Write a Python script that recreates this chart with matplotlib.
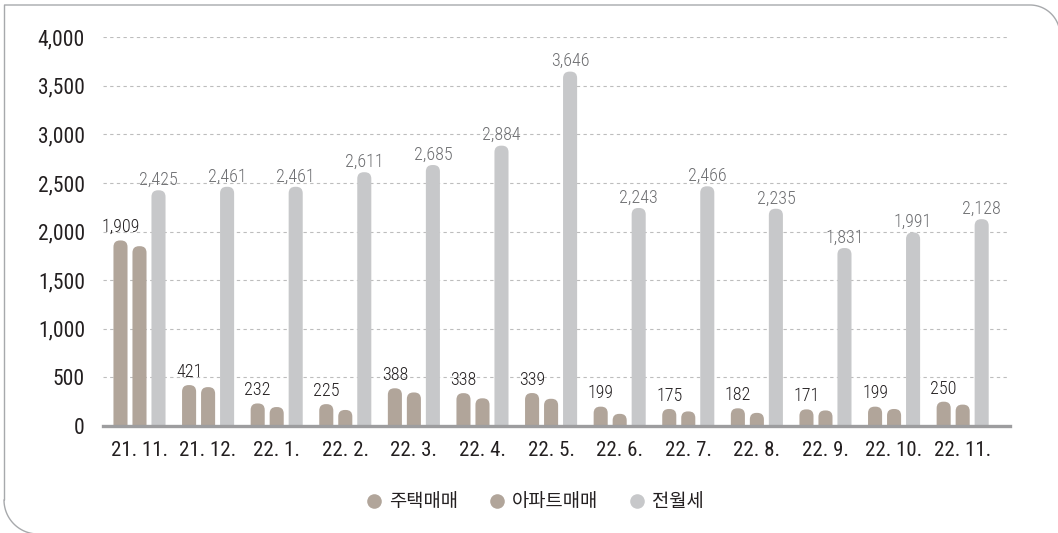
import numpy as np
import matplotlib
matplotlib.use("Agg")
import matplotlib.pyplot as plt
from matplotlib.patches import FancyBboxPatch
from matplotlib.lines import Line2D

plt.rcParams['font.family'] = ['Roboto Condensed', 'Liberation Sans Narrow', 'Roboto', 'DejaVu Sans']

# data
months = ['21. 11.', '21. 12.', '22. 1.', '22. 2.', '22. 3.', '22. 4.', '22. 5.',
          '22. 6.', '22. 7.', '22. 8.', '22. 9.', '22. 10.', '22. 11.']
house_sales = [1909, 421, 232, 225, 388, 338, 339, 199, 175, 182, 171, 199, 250]
apt_sales = [1850, 400, 195, 165, 345, 285, 280, 125, 150, 135, 160, 175, 220]
rent = [2425, 2461, 2461, 2611, 2685, 2884, 3646, 2243, 2466, 2235, 1831, 1991, 2128]
series_names = ['주택매매', '아파트매매', '전월세']
yticks = [0, 500, 1000, 1500, 2000, 2500, 3000, 3500, 4000]

c_house = '#b1a59a'
c_apt = '#b1a59a'
c_rent = '#c7c8ca'

W, H = 1058, 533
fig = plt.figure(figsize=(W / 100, H / 100), dpi=100)

# axes placed in pixel terms
left, right, bottom, top = 103, 1010, 426, 37.2
ax = fig.add_axes([left / W, 1 - bottom / H, (right - left) / W, (bottom - top) / H])
ax.set_xlim(-0.532, 12.69)
ax.set_ylim(0, 4000)

# pixels per data unit, used for rounded bar tops
px_x = (right - left) / (12.69 + 0.532)
px_y = (bottom - top) / 4000
aspect = px_x / px_y


def rounded_bars(xs, vals, width, color, r_px=6.5):
    r = r_px / px_x
    for x, v in zip(xs, vals):
        p = FancyBboxPatch((x - width / 2, -300), width, v + 300,
                           boxstyle=f"round,pad=0,rounding_size={r}",
                           mutation_aspect=aspect, fc=color, ec='none', zorder=2)
        ax.add_patch(p)


x = np.arange(len(months))
step = 0.277
bw = 0.205
rounded_bars(x - step, house_sales, bw, c_house)
rounded_bars(x, apt_sales, bw, c_apt)
rounded_bars(x + step, rent, bw, c_rent)

# value labels
for xi, v in zip(x - step, house_sales):
    ax.annotate(f'{v:,}', (xi, v), xytext=(0, 3), textcoords='offset points',
                ha='center', va='bottom', fontsize=13, color='#231f20',
                fontweight='light')
for xi, v in zip(x + step, rent):
    ax.annotate(f'{v:,}', (xi, v), xytext=(0, 1), textcoords='offset points',
                ha='center', va='bottom', fontsize=13, color='#6d6e71',
                fontweight='light')

# grid and axes styling
for yv in yticks[1:]:
    ax.axhline(yv, color='#bdbdbd', lw=0.8, ls=(0, (3, 3)), zorder=1)
for s in ['top', 'right', 'left']:
    ax.spines[s].set_visible(False)
ax.spines['bottom'].set_color('#9d9d9f')
ax.spines['bottom'].set_linewidth(2.4)
ax.spines['bottom'].set_zorder(3)

ax.set_yticks(yticks)
ax.set_yticklabels([f'{t:,}' for t in yticks])
ax.set_xticks(x)
ax.set_xticklabels(months)
ax.tick_params(axis='y', length=0, pad=13, labelsize=15.5, labelcolor='#231f20')
ax.tick_params(axis='x', length=0, pad=11, labelsize=15, labelcolor='#231f20')

# legend
handles = [Line2D([], [], ls='none', marker='o', markersize=10.5, mfc=c, mec='none')
           for c in [c_house, c_apt, c_rent]]
fig.legend(handles, series_names, loc='center', bbox_to_anchor=(535 / W, 1 - 502 / H),
           ncol=3, frameon=False, handlelength=0.8, handletextpad=0.4,
           columnspacing=1.68,
           prop={'family': ['Noto Sans CJK KR', 'DejaVu Sans'], 'size': 13.5},
           labelcolor='#231f20')

# outer frame: square top-left, rounded top-right and bottom-left
t1 = np.linspace(np.pi / 2, 0, 30)
tr_x = 1030 + 30 * np.cos(t1)
tr_y = 35 - 30 * np.sin(t1)
t2 = np.linspace(np.pi, np.pi / 2, 30)
bl_x = 38 + 34 * np.cos(t2)
bl_y = 500 + 34 * np.sin(t2)
px = np.concatenate([bl_x[::-1], [4.5, 4.5], tr_x])
py = np.concatenate([bl_y[::-1], [500, 5], tr_y])
fig.add_artist(Line2D(px / W, 1 - py / H, color='#a7a9ac', lw=1.0,
                      transform=fig.transFigure))

fig.savefig('out.png', dpi=100)
